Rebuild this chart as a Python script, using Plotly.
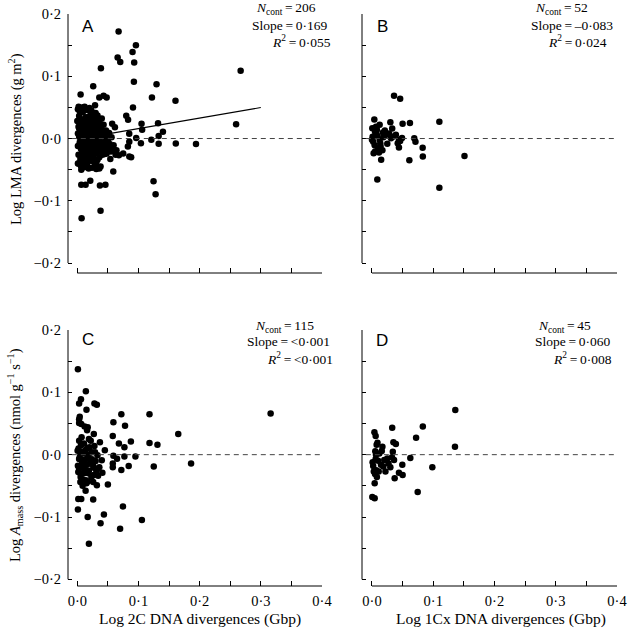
import plotly.graph_objects as go

# ---------------- data ----------------
# Panel A: Log 2C DNA divergences vs Log LMA divergences
a_x = [0.0675, 0.0958, 0.0903, 0.0659, 0.0702, 0.093, 0.0386, 0.267, 0.0925, 0.1295, 0.026, 0.0054,
       0.122, 0.043, 0.048, 0.036, 0.1605, 0.091, 0.029, 0.0022, 0.012, 0.2596, 0.080, 0.083, 0.057,
       0.0615, 0.105, 0.132, 0.140, 0.106, 0.0849, 0.133, 0.0963, 0.104, 0.121, 0.133, 0.161, 0.194,
       0.085, 0.0827, 0.0593, 0.064, 0.0626, 0.075, 0.085, 0.088, 0.0588, 0.1246, 0.128, 0.0065,
       0.0136, 0.0212, 0.037, 0.046, 0.038, 0.007, 0.031, 0.036, 0.0065, 0.0185, 0.001, 0.054, 0.068, 0.045,
       0.000, 0.001, 0.001, 0.002, 0.002, 0.003, 0.003, 0.004, 0.004, 0.005, 0.005, 0.006, 0.006, 0.007,
       0.007, 0.008, 0.008, 0.009, 0.009, 0.010, 0.010, 0.011, 0.011, 0.012, 0.012, 0.013, 0.013, 0.014,
       0.014, 0.015, 0.015, 0.016, 0.016, 0.017, 0.017, 0.018, 0.018, 0.019, 0.019, 0.020, 0.020, 0.021,
       0.021, 0.022, 0.022, 0.023, 0.023, 0.024, 0.024, 0.025, 0.025, 0.026, 0.026, 0.027, 0.027, 0.028,
       0.028, 0.029, 0.029, 0.030, 0.030, 0.031, 0.031, 0.032, 0.032, 0.033, 0.033, 0.034, 0.034, 0.035,
       0.035, 0.036, 0.036, 0.037, 0.037, 0.038, 0.038, 0.039, 0.039, 0.040, 0.040, 0.041, 0.042, 0.043,
       0.043, 0.044, 0.045, 0.046, 0.047, 0.048, 0.049, 0.050, 0.051, 0.052, 0.053, 0.055, 0.056, 0.058,
       0.004, 0.002, 0.008, 0.013, 0.006, 0.011, 0.020, 0.024, 0.015, 0.018, 0.009, 0.012, 0.003, 0.007,
       0.021, 0.026, 0.028, 0.016, 0.010, 0.019, 0.023, 0.031, 0.001, 0.005, 0.014, 0.017, 0.022, 0.027,
       0.033, 0.030]
a_y = [0.172, 0.150, 0.139, 0.130, 0.123, 0.122, 0.113, 0.109, 0.091, 0.087, 0.084, 0.0707,
       0.066, 0.0685, 0.066, 0.066, 0.0605, 0.050, 0.0535, 0.051, 0.051, 0.023, 0.0364, 0.030, 0.0236,
       0.018, 0.0236, 0.0246, 0.0107, 0.014, 0.0075, 0.004, 0.001, -0.0075, -0.002, -0.0086, -0.008, -0.009,
       -0.005, -0.013, -0.011, -0.019, -0.026, -0.024, -0.029, -0.030, -0.053, -0.0685, -0.0894, -0.0744,
       -0.0744, -0.068, -0.0755, -0.0744, -0.116, -0.128, -0.049, -0.048, -0.050, -0.048, -0.040, -0.033, -0.027, -0.025,
       0.028, 0.008, -0.012, 0.019, -0.026, 0.003, 0.036, -0.006, 0.014, -0.033, 0.024, -0.017, 0.001, 0.031,
       -0.009, 0.011, -0.022, 0.042, -0.002, 0.019, -0.038, 0.006, -0.014, 0.027, -0.029, 0.015, -0.004, 0.034,
       -0.019, 0.002, 0.022, -0.011, -0.042, 0.009, 0.046, -0.025, 0.017, -0.007, 0.029, 0.004, -0.032, 0.013,
       -0.016, 0.038, -0.001, 0.021, -0.023, 0.007, -0.036, 0.026, -0.010, 0.016, -0.028, 0.001, 0.033, -0.018,
       0.010, -0.041, 0.023, -0.005, 0.041, 0.014, -0.024, 0.003, 0.028, -0.013, -0.034, 0.019, 0.008, -0.020,
       0.030, -0.003, -0.030, 0.012, 0.024, -0.009, -0.045, 0.005, 0.017, -0.016, 0.032, -0.026, 0.010, -0.006,
       0.022, -0.019, 0.002, -0.012, 0.013, -0.024, 0.006, -0.003, -0.016, 0.009, -0.009, -0.021, 0.002, -0.014,
       0.044, -0.040, 0.050, 0.048, -0.044, -0.046, 0.049, -0.047, -0.030, 0.035, 0.025, -0.020, 0.017, -0.030,
       0.025, 0.040, -0.035, 0.028, 0.000, 0.012, 0.045, -0.038, 0.047, 0.009, -0.008, -0.037, 0.031, -0.013,
       0.037, 0.018]

# Panel B: Log 1Cx DNA divergences vs Log LMA divergences
b_x = [0.036, 0.046, 0.0038, 0.030, 0.062, 0.050, 0.110, 0.0125, 0.0005, 0.008, 0.033, 0.028, 0.018,
       0.023, 0.001, 0.009, 0.049, 0.044, 0.069, 0.071, 0.025, 0.0125, 0.0044, 0.014, 0.042, 0.046,
       0.044, 0.0827, 0.0027, 0.0114, 0.005, 0.061, 0.015, 0.083, 0.151, 0.0087, 0.110, 0.000, 0.031,
       0.007, 0.0136, 0.021, 0.005, 0.010, 0.0185, 0.039, 0.002, 0.017, 0.034, 0.0065]
b_y = [0.0685, 0.064, 0.0305, 0.026, 0.025, 0.0236, 0.027, 0.022, 0.0166, 0.014, 0.016, 0.008, 0.0096,
       0.006, 0.003, 0.004, 0.001, -0.002, 0.0005, -0.005, -0.0086, -0.002, -0.011, -0.013, -0.0075, -0.004,
       -0.0145, -0.015, -0.0236, -0.0225, -0.021, -0.035, -0.034, -0.029, -0.028, -0.066, -0.079, -0.002,
       0.0005, 0.0086, -0.0075, 0.013, 0.011, -0.016, 0.002, 0.006, -0.005, -0.019, 0.003, 0.019]

# Panel C: Log 2C DNA divergences vs Log Amass divergences
c_x = [0.001, 0.014, 0.006, 0.003, 0.028, 0.032, 0.015, 0.004, 0.003, 0.072, 0.118, 0.316, 0.003,
       0.0065, 0.012, 0.017, 0.016, 0.059, 0.078, 0.027, 0.165, 0.022, 0.037, 0.058, 0.068, 0.077,
       0.0876, 0.118, 0.131, 0.003, 0.0076, 0.017, 0.045, 0.0005, 0.005, 0.011, 0.0185, 0.029, 0.033,
       0.059, 0.065, 0.077, 0.095, 0.003, 0.010, 0.024, 0.040, 0.058, 0.084, 0.125, 0.186, 0.001, 0.009,
       0.016, 0.027, 0.036, 0.072, 0.058, 0.0016, 0.011, 0.019, 0.031, 0.041, 0.027, 0.034, 0.0054,
       0.014, 0.005, 0.017, 0.026, 0.032, 0.050, 0.0087, 0.0136, 0.0016, 0.0065, 0.026, 0.0746, 0.001,
       0.017, 0.0435, 0.038, 0.1056, 0.070, 0.019,
       0.002, 0.004, 0.006, 0.008, 0.010, 0.012, 0.014, 0.016, 0.018, 0.020, 0.022, 0.024, 0.026, 0.028,
       0.030, 0.032, 0.003, 0.007, 0.009, 0.013, 0.019, 0.023, 0.011, 0.005, 0.015]
c_y = [0.137, 0.1016, 0.089, 0.082, 0.082, 0.080, 0.072, 0.061, 0.057, 0.0647, 0.0647, 0.066, 0.051,
       0.049, 0.045, 0.044, 0.039, 0.052, 0.0465, 0.033, 0.033, 0.0225, 0.020, 0.030, 0.018, 0.012,
       0.021, 0.0187, 0.016, 0.0225, 0.017, 0.0107, 0.007, 0.0064, 0.002, 0.002, 0.000, 0.0037, -0.001,
       -0.0016, -0.0064, -0.003, -0.003, -0.007, -0.0086, -0.0075, -0.009, -0.014, -0.018, -0.019, -0.014,
       -0.0176, -0.020, -0.016, -0.021, -0.020, -0.0246, -0.020, -0.028, -0.030, -0.0257, -0.029, -0.029,
       -0.0326, -0.034, -0.036, -0.041, -0.044, -0.043, -0.044, -0.049, -0.048, -0.050, -0.058, -0.071,
       -0.071, -0.072, -0.083, -0.088, -0.100, -0.096, -0.110, -0.105, -0.119, -0.143,
       0.010, -0.004, 0.015, -0.012, 0.005, -0.022, 0.008, -0.006, -0.030, 0.012, -0.012, 0.004, -0.018,
       0.014, -0.010, -0.024, -0.022, 0.028, -0.040, -0.014, 0.025, -0.036, 0.018, -0.030, -0.046]

# Panel D: Log 1Cx DNA divergences vs Log Amass divergences
d_x = [0.136, 0.033, 0.083, 0.072, 0.004, 0.006, 0.009, 0.0076, 0.017, 0.035, 0.039, 0.034, 0.1355,
       0.0054, 0.0065, 0.001, 0.006, 0.010, 0.0147, 0.020, 0.0185, 0.0327, 0.036, 0.027, 0.022, 0.0626,
       0.0495, 0.0985, 0.003, 0.007, 0.011, 0.005, 0.044, 0.050, 0.037, 0.0044, 0.0746, 0.0005, 0.0044,
       0.012, 0.002, 0.025, 0.008, 0.016, 0.030]
d_y = [0.0717, 0.043, 0.045, 0.027, 0.036, 0.030, 0.019, 0.016, 0.0128, 0.020, 0.017, 0.0048, 0.0128,
       0.0053, 0.000, -0.012, -0.007, -0.0096, -0.016, -0.0086, -0.019, -0.0043, -0.0086, -0.014, -0.027,
       -0.0053, -0.016, -0.020, -0.027, -0.025, -0.027, -0.031, -0.029, -0.0326, -0.038, -0.046, -0.060,
       -0.068, -0.070, 0.002, -0.018, -0.006, -0.036, 0.006, -0.020]

# regression line for panel A
a_slope = 0.169
a_intercept = -0.001
a_line_x = [0.0, 0.30]

stats = {
    "A": ["<i>N</i><sub>cont</sub>\u2009=\u2009206", "Slope\u2009=\u20090·169", "<i>R</i><sup>2</sup>\u2009=\u20090·055"],
    "B": ["<i>N</i><sub>cont</sub>\u2009=\u200952", "Slope\u2009=\u2009–0·083", "<i>R</i><sup>2</sup>\u2009=\u20090·024"],
    "C": ["<i>N</i><sub>cont</sub>\u2009=\u2009115", "Slope\u2009=\u2009&lt;0·001", "<i>R</i><sup>2</sup>\u2009=\u2009&lt;0·001"],
    "D": ["<i>N</i><sub>cont</sub>\u2009=\u200945", "Slope\u2009=\u20090·060", "<i>R</i><sup>2</sup>\u2009=\u20090·008"],
}

x_tickvals = [0, 0.05, 0.1, 0.15, 0.2, 0.25, 0.3, 0.35, 0.4]
x_ticktext = ["0·0", "", "0·1", "", "0·2", "", "0·3", "", "0·4"]
y_tickvals = [-0.2, -0.15, -0.1, -0.05, 0.0, 0.05, 0.1, 0.15, 0.2]
y_ticktext = ["−0·2", "", "−0·1", "", "0·0", "", "0·1", "", "0·2"]

# ---------------- figure ----------------
W, H = 628, 639
SERIF = "Liberation Serif"
SANS = "Liberation Sans"

fig = go.Figure()
panels = [("A", a_x, a_y, "x", "y"), ("B", b_x, b_y, "x2", "y2"),
          ("C", c_x, c_y, "x3", "y3"), ("D", d_x, d_y, "x4", "y4")]
for name, xs, ys, xa, ya in panels:
    fig.add_trace(go.Scatter(x=xs, y=ys, mode="markers", xaxis=xa, yaxis=ya,
                             marker=dict(color="black", size=6.5, line=dict(width=0)),
                             showlegend=False, cliponaxis=False, hoverinfo="skip"))

fig.add_trace(go.Scatter(x=a_line_x, y=[a_slope * v + a_intercept for v in a_line_x],
                         mode="lines", xaxis="x", yaxis="y", hoverinfo="skip",
                         line=dict(color="black", width=1.1), showlegend=False))

# domains in pixels
col_px = [(68, 322, -0.0152), (362, 617, -0.0163)]
row_px = [(14, 273, -0.216), (330, 586, -0.2107)]

def xdom(c):
    return [col_px[c][0] / W, col_px[c][1] / W]

def ydom(r):
    return [1 - row_px[r][1] / H, 1 - row_px[r][0] / H]

axis_common = dict(showgrid=False, zeroline=False, showline=False, ticks="inside", automargin=False,
                   tickcolor="black", tickwidth=1, tickfont=dict(family=SERIF, size=14.5, color="black"))

layout_axes = {}
idx = 0
for r in range(2):
    for c in range(2):
        idx += 1
        xs = "" if idx == 1 else str(idx)
        layout_axes["xaxis" + xs] = dict(
            axis_common, domain=xdom(c), anchor="y" + xs,
            range=[col_px[c][2], 0.4], tickmode="array", tickvals=x_tickvals,
            ticktext=x_ticktext if r == 1 else [""] * len(x_tickvals),
            ticklen=5, ticklabelstandoff=4)
        layout_axes["yaxis" + xs] = dict(
            axis_common, domain=ydom(r), anchor="x" + xs,
            range=[row_px[r][2], 0.2], tickmode="array", tickvals=y_tickvals,
            ticktext=y_ticktext if c == 0 else [""] * len(y_tickvals),
            ticklen=4, ticklabelstandoff=6)

fig.update_layout(**layout_axes)

shapes = []
annotations = []
idx = 0
for r in range(2):
    for c in range(2):
        idx += 1
        xs = "" if idx == 1 else str(idx)
        xr, yr = "x" + xs, "y" + xs
        # detached axis lines
        shapes.append(dict(type="line", xref=xr + " domain", yref=yr, x0=0, x1=0, y0=-0.2, y1=0.2,
                           line=dict(color="black", width=1)))
        shapes.append(dict(type="line", xref=xr, yref=yr + " domain", x0=0, x1=0.4, y0=0, y1=0,
                           line=dict(color="black", width=1)))
        # zero reference
        shapes.append(dict(type="line", xref=xr + " domain", yref=yr, x0=0.015, x1=1.0, y0=0, y1=0,
                           line=dict(color="#444444", width=1, dash="5px,4px")))

fig.update_layout(shapes=shapes)

def ann(text, px, py, xanchor="right", size=13.5, family=SERIF, **kw):
    annotations.append(dict(text=text, x=px / W, y=1 - py / H, xref="paper", yref="paper",
                            xanchor=xanchor, yanchor="middle", showarrow=False,
                            font=dict(family=family, size=size, color="black"), **kw))

# stats text
stat_pos = {
    "A": [(318, 9), (330, 25), (333, 41)],
    "B": [(590, 9), (615, 25), (609, 41)],
    "C": [(316, 326), (332, 342), (335, 358)],
    "D": [(593, 326), (613, 342), (614, 358)],
}
for k, lines in stats.items():
    for t, (px, py) in zip(lines, stat_pos[k]):
        ann(t, px, py)

# panel letters
ann("A", 88, 26, xanchor="center", size=17, family=SANS)
ann("B", 382, 26, xanchor="center", size=17, family=SANS)
ann("C", 88, 339, xanchor="center", size=17, family=SANS)
ann("D", 382, 340, xanchor="center", size=17, family=SANS)

# axis titles
ann("Log LMA divergences (g m<sup>2</sup>)", 15, 139, xanchor="center", size=14.5, textangle=-90)
ann("Log <i>A</i><sub>mass</sub> divergences (nmol g<sup>−1</sup> s<sup>−1</sup>)", 15, 455,
    xanchor="center", size=14.5, textangle=-90)
ann("Log 2C DNA divergences (Gbp)", 200, 619, xanchor="center", size=15.5)
ann("Log 1Cx DNA divergences (Gbp)", 501, 619, xanchor="center", size=15.5)

fig.update_layout(annotations=annotations, width=W, height=H,
                  margin=dict(l=0, r=0, t=0, b=0, autoexpand=False),
                  paper_bgcolor="white", plot_bgcolor="white", showlegend=False,
                  hovermode=False)

fig.write_html("out.html", config={"displayModeBar": False, "staticPlot": True},
               post_script="document.body.style.margin='0';document.body.style.overflow='hidden';")
